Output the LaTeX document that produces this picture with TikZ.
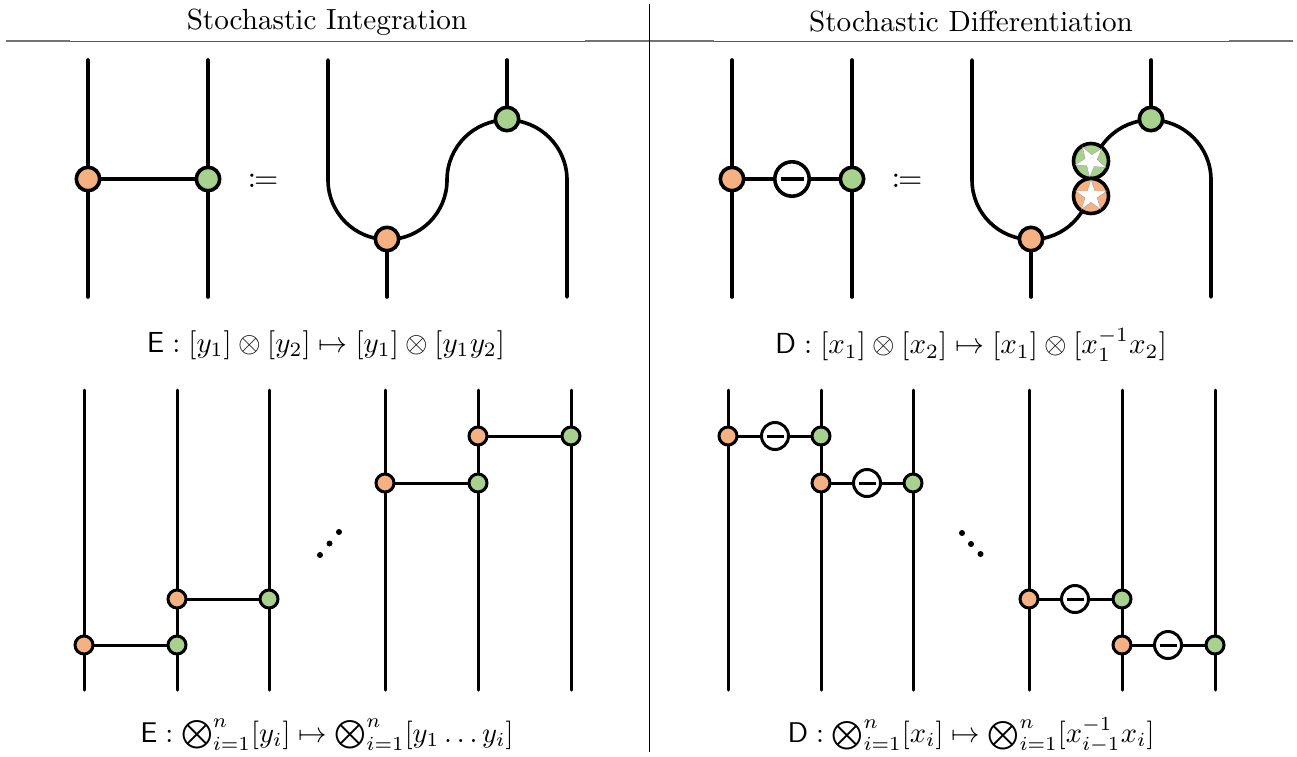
\documentclass[tikz,border=0pt]{standalone}
\usepackage{amsmath,amssymb,mathtools,graphicx}
\usetikzlibrary{shapes.geometric}
\definecolor{po}{HTML}{F6B183}
\definecolor{pg}{HTML}{A9D18E}
\tikzset{
 x=1pt,y=-1pt,
 wirea/.style={line width=3.6pt,line cap=round},
 wireb/.style={line width=3pt,line cap=round},
 dota/.style={circle,draw,line width=3.6pt,inner sep=0,minimum size=23.4pt,outer sep=0},
 dotb/.style={circle,draw,line width=3pt,inner sep=0,minimum size=18pt,outer sep=0},
 neg/.style={circle,draw,fill=white,inner sep=0,outer sep=0},
 nega/.style={neg,line width=3.6pt,minimum size=34.4pt},
 negb/.style={neg,line width=3pt,minimum size=27pt},
 bigstar/.style={circle,draw,line width=3.6pt,inner sep=0,minimum size=35pt,outer sep=0},
 starin/.style={star,star points=5,star point ratio=2.6,fill=white,draw=black!50,line width=.2pt,inner sep=0,minimum size=33pt},
 lab/.style={inner sep=0},
 bdot/.style={circle,fill=black,inner sep=0,minimum size=6pt},
 rulethin/.style={line width=.9pt,black!65},
 rulethick/.style={line width=1.7pt,black!55},
}
\newcommand{\tscale}[1]{\scalebox{2.915}{#1}}
\newcommand{\fscale}[1]{\scalebox{2.9}{#1}}
\newcommand{\gscale}[1]{\scalebox{2.85}{#1}}
\newcommand{\cscale}[1]{\scalebox{3.12}{#1}}
\begin{document}
\begin{tikzpicture}
\useasboundingbox (0,0) rectangle (1297,756);
% frame
\coordinate (hl) at (6,41); \coordinate (hr) at (1293,41);
\coordinate (vt) at (649.5,4); \coordinate (vb) at (649.5,752);
\draw[rulethin] (hl) -- (hr);
\coordinate (ha) at (70,41); \coordinate (hb) at (585,41); \coordinate (hc) at (714,41); \coordinate (hd) at (1229,41);
\draw[rulethick] (hl) -- (ha);
\draw[rulethick] (hb) -- (hc);
\draw[rulethick] (hd) -- (hr);
\draw[line width=.9pt] (vt) -- (vb);
\node[lab] (t1) at (327,22) {\tscale{Stochastic Integration}};
\node[lab] (t2) at (971,22) {\tscale{Stochastic Differentiation}};
\node[lab] (f1) at (326,345) {\fscale{$\mathsf{E}:[y_1]\otimes[y_2]\mapsto[y_1]\otimes[y_1y_2]$}};
\node[lab] (f2) at (971,345) {\fscale{$\mathsf{D}:[x_1]\otimes[x_2]\mapsto[x_1]\otimes[x_1^{-1}x_2]$}};
\node[lab] (f3) at (327,735) {\gscale{$\mathsf{E}:\bigotimes_{i=1}^n[y_i]\mapsto\bigotimes_{i=1}^n[y_1\dots y_i]$}};
\node[lab] (f4) at (971,735) {\gscale{$\mathsf{D}:\bigotimes_{i=1}^n[x_i]\mapsto\bigotimes_{i=1}^n[x_{i-1}^{-1}x_i]$}};
\node[lab] (c1) at (263,181) {\cscale{$\coloneqq$}};
\node[lab] (c2) at (907,181) {\cscale{$\coloneqq$}};

% --- top left H
\coordinate (at) at (88,60); \coordinate (ab) at (88,297);
\coordinate (bt) at (208,60); \coordinate (bb) at (208,297);
\draw[wirea] (at) -- (ab);
\draw[wirea] (bt) -- (bb);
\node[dota,fill=po] (a1) at (88,179) {};
\node[dota,fill=pg] (b1) at (208,179) {};
\draw[wirea,line cap=butt] (a1) -- (b1);
% --- top left snake
\coordinate (s1) at (328,60); \coordinate (s2) at (328,180);
\coordinate (s5) at (567,297);
\coordinate (s6) at (387,297); \coordinate (s7) at (507,60);
\draw[wirea] (s1) -- (s2) arc[start angle=180,end angle=0,radius=59.5] arc[start angle=180,end angle=360,radius=60] -- (s5);
\node[dota,fill=po] (s8) at (387,239) {};
\node[dota,fill=pg] (s9) at (507,119) {};
\draw[wirea] (s6) -- (s8);
\draw[wirea] (s7) -- (s9);

% --- top right H
\coordinate (ct) at (732,60); \coordinate (cb) at (732,297);
\coordinate (dt) at (852,60); \coordinate (db) at (852,297);
\draw[wirea] (ct) -- (cb);
\draw[wirea] (dt) -- (db);
\node[dota,fill=po] (c1n) at (732,179) {};
\node[dota,fill=pg] (d1n) at (852,179) {};
\draw[wirea,line cap=butt] (c1n) -- (d1n);
\node[nega] (m0) at (792,179) {};
\draw[line width=3.6pt] ([xshift=-11.5pt]m0.center) -- ([xshift=11.5pt]m0.center);
% --- top right snake
\coordinate (r1) at (972,60); \coordinate (r2) at (972,180);
\coordinate (r5) at (1211,297); \coordinate (r6) at (1031,297); \coordinate (r7) at (1151,60);
\draw[wirea] (r1) -- (r2) arc[start angle=180,end angle=0,radius=59.5] arc[start angle=180,end angle=360,radius=60] -- (r5);
\node[dota,fill=po] (r8) at (1031,239) {};
\node[dota,fill=pg] (r9) at (1151,119) {};
\draw[wirea] (r6) -- (r8);
\draw[wirea] (r7) -- (r9);
\node[bigstar,fill=pg] (g) at (1091,161) {};
\node[starin,rotate=31] (gs) at (1091,161) {};
\node[bigstar,fill=po] (o) at (1091,196) {};
\node[starin] (os) at (1091,196) {};

% --- bottom left
\foreach \n/\x in {p1/84,p2/177,p3/269,p4/385,p5/478,p6/571}{
 \coordinate (\n t) at (\x,390); \coordinate (\n b) at (\x,690);
 \draw[wireb] (\n t) -- (\n b);}
\foreach \n/\x/\y/\m/\u/\v in {q1/84/645/q2/177/645,q3/177/599/q4/269/599,q5/385/483/q6/478/483,q7/478/436/q8/571/436}{
 \node[dotb,fill=po] (\n) at (\x,\y) {};
 \node[dotb,fill=pg] (\m) at (\u,\v) {};
 \draw[wireb,line cap=butt] (\n) -- (\m);}
\node[bdot] (d1) at (320,555) {};
\node[bdot] (d2) at (329.5,543.5) {};
\node[bdot] (d3) at (339,532) {};

% --- bottom right
\foreach \n/\x in {w1/728,w2/821,w3/913,w4/1029,w5/1122,w6/1215}{
 \coordinate (\n t) at (\x,390); \coordinate (\n b) at (\x,690);
 \draw[wireb] (\n t) -- (\n b);}
\foreach \n/\x/\y/\m/\u/\k/\c in {v1/728/436/v2/821/k1/775,v3/821/483/v4/913/k2/867,v5/1029/599/v6/1122/k3/1075,v7/1122/645/v8/1215/k4/1168}{
 \node[dotb,fill=po] (\n) at (\x,\y) {};
 \node[dotb,fill=pg] (\m) at (\u,\y) {};
 \draw[wireb,line cap=butt] (\n) -- (\m);
 \node[negb] (\k) at (\c,\y) {};
 \draw[line width=3pt] ([xshift=-8.5pt]\k.center) -- ([xshift=8.5pt]\k.center);}
\node[bdot] (e1) at (962,533) {};
\node[bdot] (e2) at (971,544) {};
\node[bdot] (e3) at (980.5,554) {};
\end{tikzpicture}
\end{document}
